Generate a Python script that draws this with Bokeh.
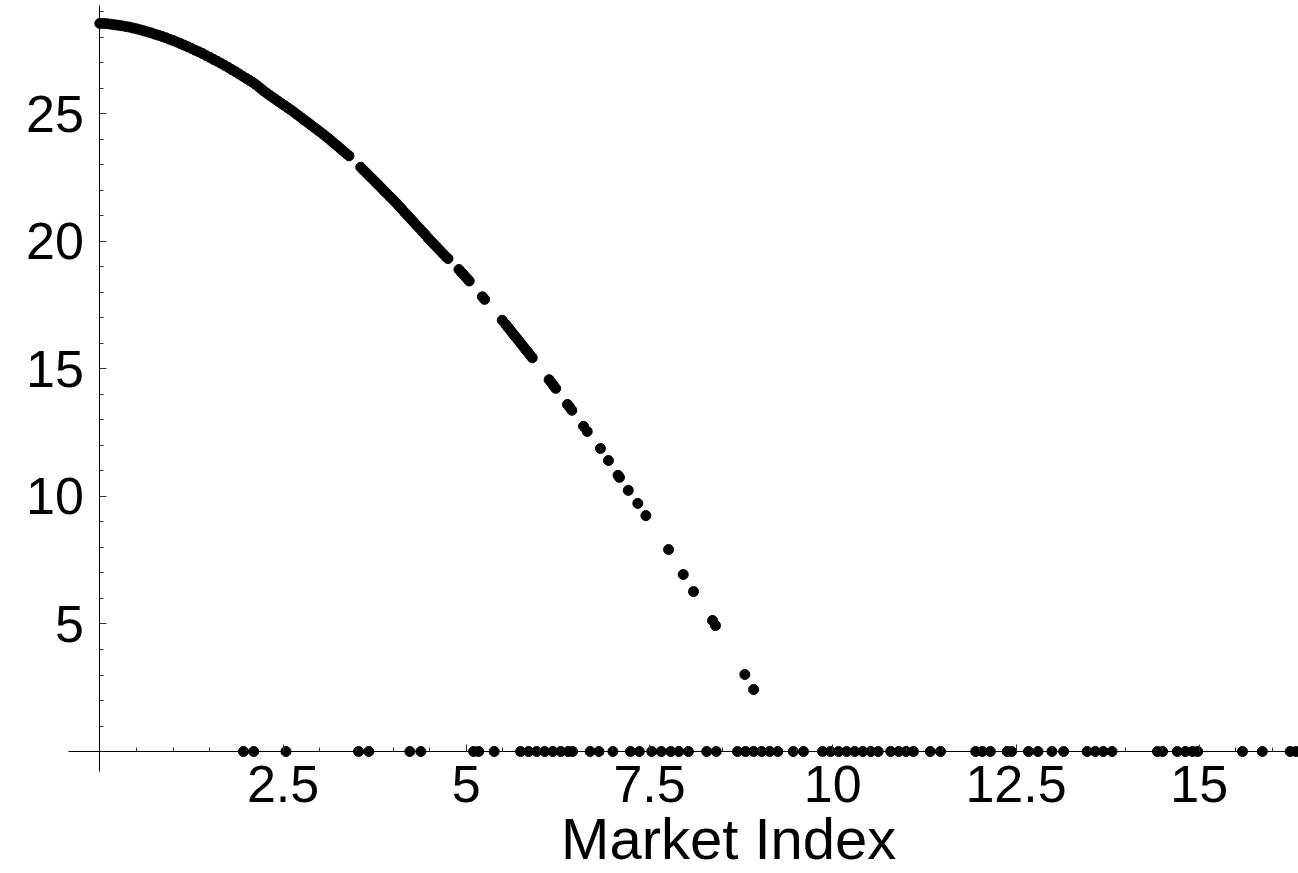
from bokeh.plotting import figure
from bokeh.models import Range1d, FixedTicker, NumeralTickFormatter, Label
from bokeh.embed import file_html
from bokeh.resources import INLINE

# ---- data ----
curve_x = [0.00, 0.05, 0.10, 0.15, 0.20, 0.25, 0.30, 0.35, 0.40, 0.45,
           0.50, 0.55, 0.60, 0.65, 0.70, 0.75, 0.80, 0.85, 0.90, 0.95,
           1.00, 1.05, 1.10, 1.15, 1.20, 1.25, 1.30, 1.35, 1.40, 1.45,
           1.50, 1.55, 1.60, 1.65, 1.70, 1.75, 1.80, 1.85, 1.90, 1.95,
           2.00, 2.04, 2.08, 2.12, 2.16, 2.20, 2.24, 2.28, 2.32, 2.36,
           2.40, 2.44, 2.48, 2.52, 2.56, 2.60, 2.64, 2.68, 2.72, 2.76,
           2.80, 2.84, 2.88, 2.92, 2.96, 3.00, 3.04, 3.08, 3.12, 3.16,
           3.20, 3.24, 3.28, 3.32, 3.36, 3.40, 3.56, 3.60, 3.64, 3.68,
           3.72, 3.76, 3.80, 3.84, 3.88, 3.92, 3.96, 4.00, 4.04, 4.08,
           4.12, 4.16, 4.20, 4.24, 4.28, 4.32, 4.36, 4.40, 4.44, 4.48,
           4.52, 4.56, 4.60, 4.64, 4.68, 4.72, 4.75,
           4.90, 4.93, 4.96, 4.99, 5.02, 5.04,
           5.22, 5.25,
           5.49, 5.54, 5.57, 5.60, 5.63, 5.66, 5.69, 5.72, 5.75, 5.78,
           5.81, 5.84, 5.87, 5.90,
           6.13, 6.16, 6.19, 6.22,
           6.38, 6.41, 6.44,
           6.60, 6.65,
           6.83, 6.94, 7.07, 7.09, 7.21, 7.34, 7.45, 7.76, 7.96, 8.10,
           8.36, 8.40, 8.80, 8.92]
curve_y = [28.55, 28.55, 28.54, 28.52, 28.50, 28.48, 28.46, 28.43, 28.41, 28.37,
           28.34, 28.30, 28.26, 28.22, 28.18, 28.13, 28.09, 28.04, 27.99, 27.93,
           27.88, 27.82, 27.76, 27.70, 27.64, 27.57, 27.50, 27.44, 27.37, 27.29,
           27.22, 27.14, 27.07, 26.99, 26.91, 26.83, 26.74, 26.66, 26.57, 26.48,
           26.39, 26.32, 26.25, 26.17, 26.08, 25.99, 25.89, 25.81, 25.73, 25.65,
           25.57, 25.49, 25.41, 25.33, 25.25, 25.17, 25.09, 25.00, 24.92, 24.83,
           24.74, 24.66, 24.57, 24.48, 24.40, 24.31, 24.22, 24.13, 24.04, 23.94,
           23.84, 23.75, 23.65, 23.55, 23.45, 23.36, 22.91, 22.79, 22.68, 22.56,
           22.45, 22.33, 22.22, 22.10, 21.98, 21.87, 21.75, 21.64, 21.52, 21.39,
           21.27, 21.14, 21.02, 20.89, 20.77, 20.64, 20.52, 20.39, 20.27, 20.13,
           20.01, 19.89, 19.77, 19.65, 19.53, 19.41, 19.33,
           18.90, 18.80, 18.71, 18.61, 18.52, 18.45,
           17.83, 17.73,
           16.91, 16.74, 16.63, 16.52, 16.41, 16.30, 16.20, 16.09, 15.98, 15.87,
           15.76, 15.66, 15.55, 15.44,
           14.58, 14.47, 14.35, 14.24,
           13.61, 13.50, 13.38,
           12.75, 12.55,
           11.88, 11.41, 10.83, 10.75, 10.24, 9.73, 9.25, 7.92, 6.94, 6.27,
           5.14, 4.94, 3.02, 2.43]

axis_x = [1.96, 2.10, 2.54, 3.53, 3.67, 4.23, 4.38, 5.10, 5.17, 5.38,
          5.74, 5.85, 5.96, 6.07, 6.18, 6.29, 6.39, 6.45, 6.69, 6.81,
          7.00, 7.24, 7.36, 7.53, 7.66, 7.79, 7.90, 8.03, 8.28, 8.41,
          8.70, 8.81, 8.92, 9.03, 9.14, 9.25, 9.46, 9.60,
          9.86, 9.97, 10.08, 10.19, 10.30, 10.41, 10.52, 10.62, 10.79, 10.90,
          11.00, 11.10, 11.33, 11.47, 11.95, 12.04, 12.15, 12.38, 12.44,
          12.67, 12.80, 12.99, 13.15, 13.47, 13.58, 13.69, 13.81,
          14.43, 14.50, 14.70, 14.81, 14.91, 14.98, 15.59, 15.86, 16.24, 16.32]
axis_y = [0.0] * len(axis_x)

x_major = [2.5, 5, 7.5, 10, 12.5, 15]
x_minor = [0.5, 1, 1.5, 2, 3, 3.5, 4, 4.5, 5.5, 6, 6.5, 7, 8, 8.5, 9, 9.5,
           10.5, 11, 11.5, 12, 13, 13.5, 14, 14.5, 15.5, 16]
y_major = [5, 10, 15, 20, 25]
y_minor = [1, 2, 3, 4, 6, 7, 8, 9, 11, 12, 13, 14, 16, 17, 18, 19,
           21, 22, 23, 24, 26, 27, 28, 29]

x_title = "Market Index"

FONT = "Liberation Sans"

p = figure(width=1298, height=873, output_backend="svg", toolbar_location=None,
           x_range=Range1d(-1.355, 16.354), y_range=Range1d(-4.784, 29.45),
           min_border_left=0, min_border_right=0, min_border_top=0,
           min_border_bottom=0)
p.outline_line_color = None
p.xgrid.visible = False
p.ygrid.visible = False
p.background_fill_color = "white"
p.border_fill_color = "white"

p.scatter(curve_x, curve_y, size=10, color="black")
p.scatter(axis_x, axis_y, size=10, color="black")

for ax in (p.xaxis[0], p.yaxis[0]):
    ax.fixed_location = 0
    ax.axis_line_color = "black"
    ax.axis_line_width = 1
    ax.major_tick_in = 7
    ax.major_tick_out = 0
    ax.minor_tick_in = 4
    ax.minor_tick_out = 0
    ax.major_tick_line_color = "#333333"
    ax.minor_tick_line_color = "#333333"
    ax.major_label_text_font = FONT
    ax.major_label_text_font_size = "52px"
    ax.major_label_text_color = "black"
    ax.formatter = NumeralTickFormatter(format="0.[0]")

p.xaxis[0].bounds = (-0.423, 16.354)
p.yaxis[0].bounds = (-0.784, 29.25)
p.xaxis[0].ticker = FixedTicker(ticks=x_major, minor_ticks=x_minor)
p.yaxis[0].ticker = FixedTicker(ticks=y_major, minor_ticks=y_minor)
p.xaxis[0].major_label_standoff = 14
p.yaxis[0].major_label_standoff = 16

p.add_layout(Label(x=8.58, y=-3.41, text=x_title, text_align="center",
                   text_baseline="middle", text_font=FONT,
                   text_font_size="58px", text_color="black"))

open("out.html", "w").write(file_html(p, INLINE))
